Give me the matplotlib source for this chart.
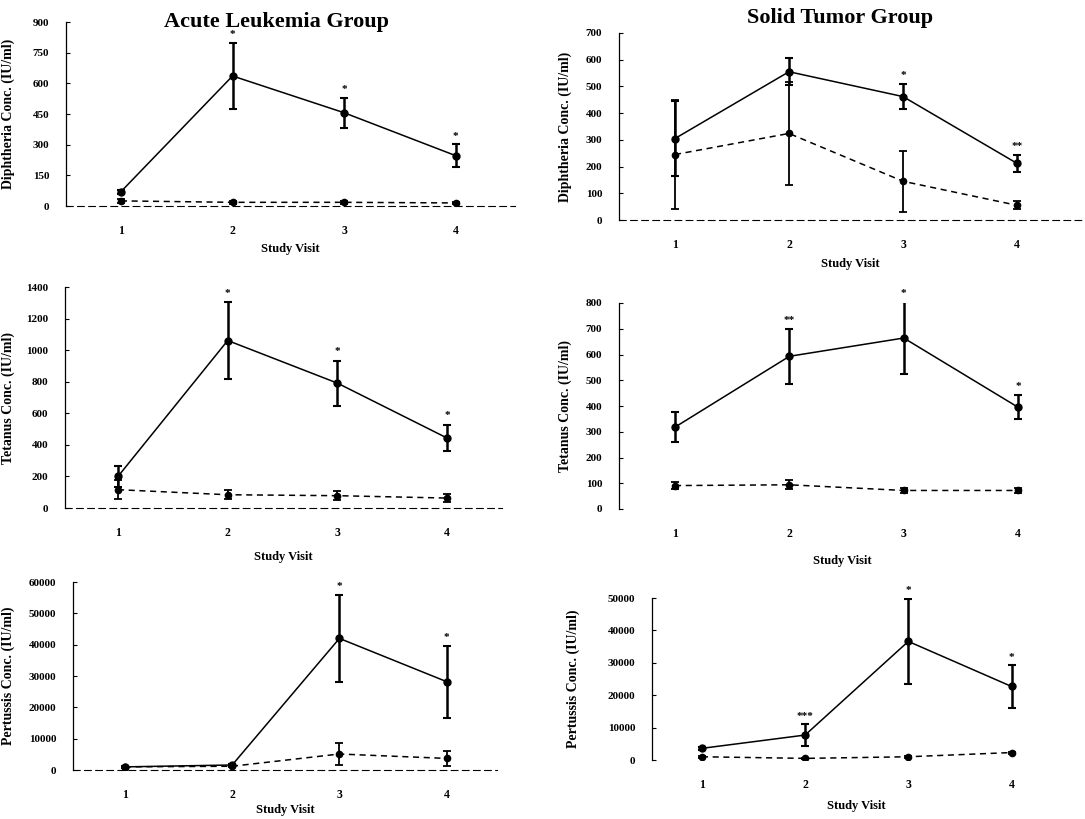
import numpy as np
import matplotlib
matplotlib.use("Agg")
import matplotlib.pyplot as plt

plt.rcParams['font.family'] = ['Liberation Serif', 'DejaVu Serif']
plt.rcParams['font.weight'] = 'bold'

visits = [1, 2, 3, 4]

# Acute leukemia group: vaccinated (solid) and control (dashed)
al_dip = [70, 636, 456, 246]
al_dip_err = [10, 162, 73, 56]
al_dip_c = [25, 18, 18, 15]
al_dip_c_err = [8, 6, 6, 5]
al_dip_star = ['', '*', '*', '*']

al_tet = [200, 1061, 791, 443]
al_tet_err = [64, 243, 143, 85]
al_tet_c = [116, 84, 78, 63]
al_tet_c_err = [60, 30, 28, 25]
al_tet_star = ['', '*', '*', '*']

al_per = [1000, 1600, 42000, 28200]
al_per_err = [300, 400, 13900, 11500]
al_per_c = [1000, 1200, 5100, 3700]
al_per_c_err = [300, 300, 3500, 2500]
al_per_star = ['', '', '*', '*']

# Solid tumor group
st_dip = [305, 555, 462, 212]
st_dip_err = [140, 50, 48, 32]
st_dip_c = [245, 324, 145, 55]
st_dip_c_err = [205, 193, 115, 15]
st_dip_star = ['', '', '*', '**']

st_tet = [318, 593, 664, 395]
st_tet_err = [57, 107, 141, 47]
st_tet_c = [91, 94, 72, 72]
st_tet_c_err = [15, 18, 8, 8]
st_tet_star = ['', '**', '*', '*']

st_per = [3600, 7700, 36600, 22700]
st_per_err = [500, 3400, 13200, 6700]
st_per_c = [1000, 500, 1000, 2300]
st_per_c_err = [300, 200, 300, 300]
st_per_star = ['', '***', '*', '*']

W, H = 1085, 819
fig = plt.figure(figsize=(W / 100, H / 100), dpi=100)


def panel(px, ylim, yticks, xlim, vac, vac_err, ctl, ctl_err, stars, ylabel,
          ylab_x, xlab_off, bottom_line=True):
    l, t, r, b = px
    ax = fig.add_axes([l / W, 1 - b / H, (r - l) / W, (b - t) / H])
    ax.errorbar(visits, ctl, yerr=ctl_err, color='black', lw=1.1,
                ls=(0, (4, 3)), marker='o', ms=4.5, capsize=3, elinewidth=1.3,
                capthick=1.3)
    ax.errorbar(visits, vac, yerr=vac_err, color='black', lw=1.1, ls='-',
                marker='o', ms=5, capsize=3, elinewidth=1.8, capthick=1.5)
    span = ylim[1] - ylim[0]
    for x, v, e, s in zip(visits, vac, vac_err, stars):
        if s:
            ax.text(x, v + e + span * 0.02, s, ha='center', va='bottom',
                    fontsize=8)
    ax.set_xlim(*xlim)
    ax.set_ylim(*ylim)
    ax.set_yticks(yticks)
    ax.set_xticks(visits)
    ax.set_xticklabels([str(v) for v in visits], fontsize=8.5)
    ax.tick_params(axis='x', length=0, pad=14)
    ax.tick_params(axis='y', direction='in', length=3, pad=12, labelsize=8)
    for sp in ['top', 'right']:
        ax.spines[sp].set_visible(False)
    ax.spines['left'].set_linewidth(0.9)
    if bottom_line:
        ax.spines['bottom'].set_linestyle((0, (6, 4)))
        ax.spines['bottom'].set_linewidth(0.8)
    else:
        ax.spines['bottom'].set_visible(False)
    ax.set_ylabel(ylabel, fontsize=10, fontweight='bold')
    ax.yaxis.set_label_coords(-(l - ylab_x) / (r - l), 0.5)
    ax.set_xlabel('Study Visit', fontsize=9, fontweight='bold')
    ax.xaxis.set_label_coords(0.5, -xlab_off / (b - t))
    ax.patch.set_alpha(0)
    return ax


panel((66, 22, 515, 206), (0, 900), range(0, 901, 150), (0.508, 4.53),
      al_dip, al_dip_err, al_dip_c, al_dip_c_err, al_dip_star,
      'Diphtheria Conc. (IU/ml)', 15, 37)
panel((619, 33, 1082, 220), (0, 700), range(0, 701, 100), (0.509, 4.57),
      st_dip, st_dip_err, st_dip_c, st_dip_c_err, st_dip_star,
      'Diphtheria Conc. (IU/ml)', 572, 38)
panel((65, 287, 502, 508), (0, 1400), range(0, 1401, 200), (0.517, 4.50),
      al_tet, al_tet_err, al_tet_c, al_tet_c_err, al_tet_star,
      'Tetanus Conc. (IU/ml)', 15, 43)
panel((619, 303, 1065, 509), (0, 800), range(0, 801, 100), (0.51, 4.41),
      st_tet, st_tet_err, st_tet_c, st_tet_c_err, st_tet_star,
      'Tetanus Conc. (IU/ml)', 572, 46, bottom_line=False)
panel((73, 582, 497, 770), (0, 60000), range(0, 60001, 10000), (0.515, 4.47),
      al_per, al_per_err, al_per_c, al_per_c_err, al_per_star,
      'Pertussis Conc. (IU/ml)', 15, 34)
panel((652, 598, 1060, 760), (0, 50000), range(0, 50001, 10000), (0.516, 4.47),
      st_per, st_per_err, st_per_c, st_per_c_err, st_per_star,
      'Pertussis Conc. (IU/ml)', 580, 40, bottom_line=False)

fig.text(277 / W, 1 - 22 / H, 'Acute Leukemia Group', ha='center', va='center',
         fontsize=16, fontweight='bold')
fig.text(840 / W, 1 - 18 / H, 'Solid Tumor Group', ha='center', va='center',
         fontsize=16, fontweight='bold')

fig.savefig('out.png', dpi=100)
